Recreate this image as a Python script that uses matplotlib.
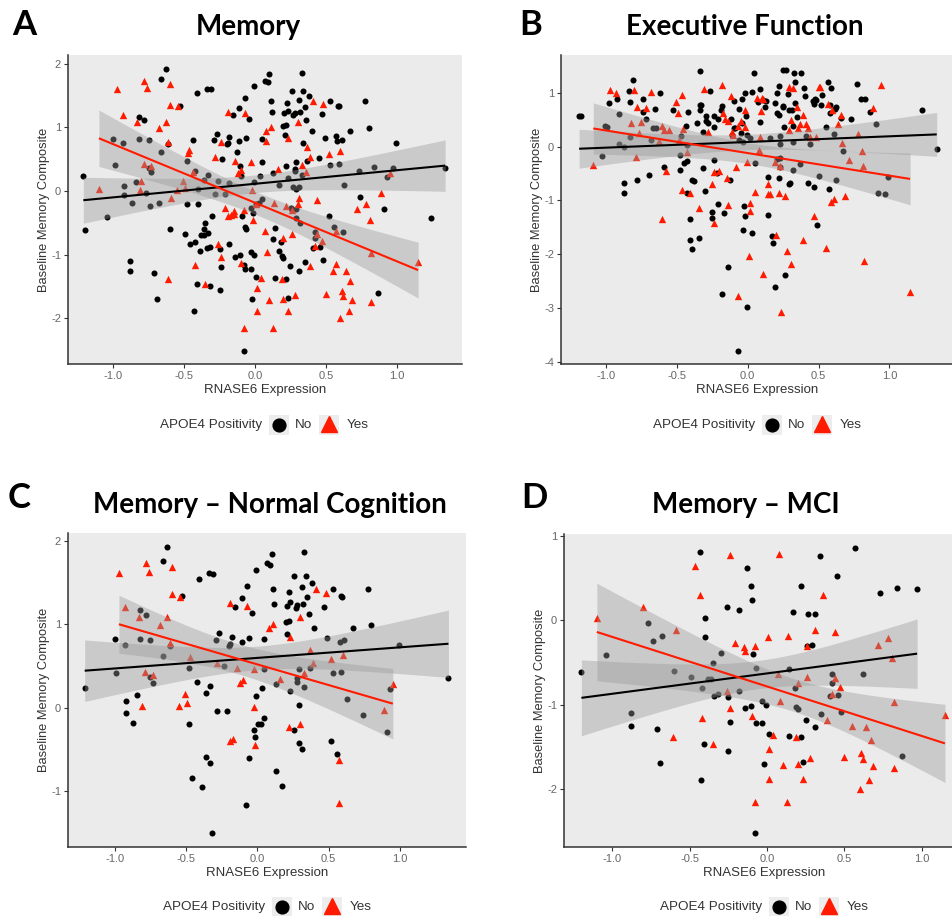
import numpy as np
import matplotlib
matplotlib.use('Agg')
import matplotlib.pyplot as plt
from matplotlib.lines import Line2D
from matplotlib.patches import Rectangle

plt.rcParams['font.family'] = ['Liberation Sans', 'DejaVu Sans']
plt.rcParams['axes.unicode_minus'] = False

# DATA (RNASE6 expression, baseline composite)
# Normal cognition, memory
C_no = [(-1.21, 0.23), (-1.00, 0.82), (-0.99, 0.41), (-0.93, 0.75), (-0.92, 0.08), (-0.92, -0.06),
        (-0.87, -0.18), (-0.84, 0.15), (-0.82, 1.17), (-0.82, 0.82), (-0.78, 1.11), (-0.75, 0.81),
        (-0.75, 0.37), (-0.73, 0.30), (-0.66, 1.76), (-0.63, 1.92), (-0.66, 0.62), (-0.61, 0.74),
        (-0.53, 1.34), (-0.48, 0.47), (-0.48, -0.20), (-0.455, -0.84), (-0.41, 1.54), (-0.42, 0.31),
        (-0.36, -0.59), (-0.36, 0.18), (-0.34, 1.61), (-0.31, 1.60), (-0.33, 0.26), (-0.39, -0.95),
        (-0.33, -0.66), (-0.32, -1.50), (-0.28, -0.04), (-0.27, 0.89), (-0.29, 0.81), (-0.235, 0.50),
        (-0.21, -0.04), (-0.20, 0.74), (-0.19, 0.76), (-0.18, 0.85), (-0.155, 1.20), (-0.11, 0.78),
        (-0.11, 1.31), (-0.07, 1.46), (-0.06, 0.83), (-0.04, 1.13), (-0.06, -0.60), (-0.08, -1.16),
        (-0.025, -0.27), (-0.015, -0.35), (-0.01, 0.14), (-0.01, 1.65), (0.005, -0.20), (0.025, -0.19),
        (0.05, -0.12), (0.035, 0.24), (0.05, 0.82), (0.05, 0.46), (0.07, 1.73), (0.09, 1.71),
        (0.10, 1.84), (0.11, 1.42), (0.12, 1.24), (0.13, 0.28), (0.13, -0.76), (0.17, -0.94),
        (0.21, 0.88), (0.20, 1.03), (0.22, 1.04), (0.205, 1.22), (0.225, 1.38), (0.23, 1.26),
        (0.23, 0.20), (0.255, -0.27), (0.26, 1.58), (0.27, 1.19), (0.28, 1.23), (0.28, 0.35),
        (0.28, 0.31), (0.29, 0.46), (0.29, 0.03), (0.29, -0.42), (0.31, 1.44), (0.315, -0.50),
        (0.32, 1.24), (0.33, 1.86), (0.33, 0.25), (0.34, 1.58), (0.35, 1.32), (0.36, 1.12),
        (0.37, 0.48), (0.38, 1.49), (0.40, 0.95), (0.47, 1.21), (0.49, 0.83), (0.52, -0.40),
        (0.53, 1.42), (0.53, 0.41), (0.56, -0.56), (0.58, 0.79), (0.585, 1.34), (0.595, 1.33),
        (0.59, 0.43), (0.61, 0.81), (0.63, 0.10), (0.67, 0.95), (0.74, -0.09), (0.775, 1.42),
        (0.80, 0.99), (0.91, -0.29), (0.93, 0.22), (0.995, 0.75), (1.34, 0.36)]
C_yes = [(-0.97, 1.61), (-0.93, 1.20), (-0.83, 1.08), (-0.81, 0.02), (-0.785, 0.43), (-0.78, 1.73),
         (-0.76, 1.62), (-0.73, 0.39), (-0.68, 0.99), (-0.63, 1.09), (-0.61, 0.77), (-0.60, 1.68),
         (-0.60, 1.36), (-0.54, 1.33), (-0.55, 0.02), (-0.51, 0.16), (-0.49, 0.05), (-0.47, 0.60),
         (-0.28, 0.53), (-0.19, 1.25), (-0.19, -0.40), (-0.17, -0.38), (-0.14, 0.48), (-0.12, 0.29),
         (-0.10, 0.33), (-0.07, 1.22), (-0.025, 0.46), (-0.02, 0.01), (-0.015, -0.45), (0.08, 0.95),
         (0.11, 1.00), (0.16, 0.34), (0.22, -0.23), (0.23, 0.84), (0.30, 1.08), (0.30, -0.20),
         (0.33, 0.41), (0.37, 0.69), (0.39, 0.53), (0.41, 1.42), (0.48, 1.37), (0.52, 0.58),
         (0.57, -0.63), (0.57, -1.14), (0.60, 0.63), (0.89, -0.03), (0.95, 0.28)]

# MCI, memory
D_no = [(-1.20, -0.61), (-1.04, -0.41), (-0.88, -1.10), (-0.88, -1.25), (-0.77, -0.03), (-0.74, -0.24),
        (-0.71, -1.29), (-0.69, -1.69), (-0.68, -0.19), (-0.60, -0.60), (-0.49, -0.67), (-0.435, 0.81),
        (-0.42, -0.80), (-0.43, -1.89), (-0.41, -1.46), (-0.40, 0.03), (-0.40, -0.20), (-0.38, -0.69),
        (-0.36, -0.69), (-0.35, -0.50), (-0.34, -0.90), (-0.32, -0.875), (-0.30, -0.39), (-0.26, 0.16),
        (-0.25, -0.91), (-0.25, -1.55), (-0.24, -1.20), (-0.18, 0.12), (-0.18, -0.84), (-0.14, -1.04),
        (-0.13, 0.62), (-0.105, 0.40), (-0.10, 0.24), (-0.105, -1.01), (-0.09, -0.40), (-0.07, -1.22),
        (-0.07, -0.56), (-0.075, -2.51), (-0.03, -0.96), (-0.03, -1.22), (-0.02, -1.70), (-0.01, -1.00),
        (0.01, -1.35), (0.14, -0.575), (0.14, -1.37), (0.17, 0.10), (0.18, -0.80), (0.19, -1.02),
        (0.20, -1.05), (0.22, 0.40), (0.22, -1.38), (0.23, -1.68), (0.25, -1.18), (0.26, -0.30),
        (0.265, 0.07), (0.29, -0.29), (0.31, 0.07), (0.31, -1.26), (0.34, 0.76), (0.35, -1.11),
        (0.42, -0.64), (0.42, -0.74), (0.41, -0.90), (0.45, 0.52), (0.46, -0.88), (0.48, -1.09),
        (0.57, 0.86), (0.62, -0.64), (0.73, 0.32), (0.84, 0.38), (0.87, -1.61), (0.97, 0.37)]
D_yes = [(-1.10, 0.03), (-0.80, 0.16), (-0.61, -1.38), (-0.59, -0.11), (-0.465, 0.64), (-0.435, 0.30),
         (-0.42, -1.16), (-0.35, -1.46), (-0.26, -0.84), (-0.24, 0.77), (-0.24, -1.04), (-0.21, -0.27),
         (-0.15, -0.32), (-0.145, -0.36), (-0.10, -1.13), (-0.08, -0.30), (-0.075, -2.15), (0.005, -0.20),
         (0.013, -1.52), (0.013, -1.88), (0.04, -1.36), (0.07, -0.63), (0.08, 0.78), (0.086, -0.96),
         (0.10, -1.71), (0.136, -0.18), (0.13, -2.15), (0.19, -1.38), (0.20, -1.70), (0.20, -0.74),
         (0.23, -1.88), (0.26, -0.30), (0.26, -0.67), (0.28, -1.63), (0.31, -0.11), (0.36, 0.30),
         (0.39, -1.18), (0.42, -0.87), (0.44, -0.14), (0.44, -0.68), (0.47, -0.79), (0.50, -1.62),
         (0.55, -1.25), (0.60, -1.99), (0.61, -1.57), (0.62, -1.645), (0.64, -1.26), (0.66, -1.89),
         (0.67, -1.42), (0.685, -1.72), (0.72, -0.29), (0.78, -0.21), (0.81, -0.45), (0.82, -0.97),
         (0.82, -1.75), (1.15, -1.12)]

# Whole sample, executive function
B_no = [(-1.19, 0.57), (-1.18, 0.57), (-1.03, -0.17), (-1.01, 0.38), (-0.99, 0.36), (-0.98, 0.80),
        (-0.92, 0.88), (-0.91, 0.60), (-0.91, 0.05), (-0.87, -0.01), (-0.87, -0.67), (-0.87, -0.86),
        (-0.835, 1.04), (-0.83, 0.83), (-0.81, 1.23), (-0.83, 0.17), (-0.78, -0.62), (-0.74, 0.89),
        (-0.74, 0.64), (-0.72, 0.52), (-0.70, -0.52), (-0.685, 0.12), (-0.655, 0.70), (-0.67, 0.35),
        (-0.645, 0.34), (-0.62, 0.99), (-0.59, -0.38), (-0.53, 0.67), (-0.48, -0.16), (-0.48, -0.43),
        (-0.47, 0.20), (-0.45, -0.31), (-0.435, 0.39), (-0.43, 0.03), (-0.43, -0.27), (-0.42, 0.65),
        (-0.43, -0.86), (-0.41, -1.35), (-0.405, -1.74), (-0.39, -0.62), (-0.38, -0.64), (-0.395, -1.91),
        (-0.36, 0.44), (-0.345, -1.70), (-0.34, 1.41), (-0.335, 0.78), (-0.33, 0.78), (-0.335, 0.68),
        (-0.315, -0.39), (-0.315, 0.27), (-0.295, 0.57), (-0.295, 0.48), (-0.28, 0.43), (-0.30, -0.82),
        (-0.265, 1.03), (-0.24, -0.25), (-0.24, 0.37), (-0.24, 0.57), (-0.25, -1.21), (-0.25, -1.32),
        (-0.22, -0.50), (-0.21, 0.52), (-0.21, -1.07), (-0.19, 0.68), (-0.18, 0.75), (-0.17, -1.24),
        (-0.18, -2.74), (-0.14, -2.23), (-0.125, -0.62), (-0.115, 0.51), (-0.11, 0.21), (-0.10, 0.85),
        (-0.10, 0.35), (-0.09, 0.34), (-0.07, -3.79), (-0.06, 0.12), (-0.06, 0.70), (-0.04, 0.89),
        (-0.05, 0.26), (-0.04, 0.43), (-0.035, 0.09), (-0.03, -1.55), (-0.025, -1.10), (-0.016, -1.30),
        (-0.016, 1.00), (-0.01, 0.57), (-0.007, -2.98), (-0.005, 0.21), (0.016, 0.15), (0.03, 1.02),
        (0.03, -1.60), (0.047, 1.37), (0.05, -0.31), (0.07, 0.82), (0.09, 1.06), (0.085, 0.45),
        (0.106, 0.86), (0.12, 0.74), (0.13, 0.84), (0.146, -0.57), (0.146, -1.27), (0.16, 0.16),
        (0.17, -1.66), (0.18, -1.79), (0.19, 0.80), (0.195, -2.61), (0.21, 0.99), (0.21, 0.63),
        (0.22, 0.58), (0.22, 1.12), (0.225, 0.19), (0.225, 0.04), (0.21, -0.23), (0.225, -0.22),
        (0.225, -0.38), (0.22, -0.59), (0.25, 1.43), (0.27, 1.43), (0.25, 0.76), (0.25, 0.73),
        (0.256, 0.37), (0.266, -2.39), (0.285, 0.97), (0.29, 0.68), (0.29, -0.70), (0.30, -0.67),
        (0.31, 0.68), (0.317, 0.38), (0.32, 0.09), (0.317, -0.44), (0.33, 1.37), (0.336, 1.19),
        (0.336, 0.80), (0.35, 0.54), (0.376, 1.37), (0.37, -0.33), (0.40, 1.08), (0.405, 0.93),
        (0.41, 0.20), (0.426, -0.67), (0.438, 0.05), (0.46, 0.85), (0.466, 0.79), (0.475, 0.88),
        (0.48, 0.86), (0.466, -0.75), (0.487, -1.46), (0.50, -0.55), (0.52, 0.78), (0.527, 0.96),
        (0.55, 0.37), (0.567, 1.20), (0.576, -0.78), (0.58, 0.62), (0.584, 0.77), (0.59, 1.08),
        (0.61, 0.24), (0.614, 0.69), (0.626, 0.73), (0.624, -0.62), (0.67, -0.08), (0.66, 0.53),
        (0.73, 0.52), (0.77, 1.16), (0.80, 0.89), (0.83, 0.88), (0.866, 0.64), (0.906, 0.42),
        (0.92, -0.87), (0.97, -0.88), (0.99, -0.57), (1.23, 0.68), (1.334, -0.05)]
B_yes = [(-1.09, -0.34), (-0.97, 1.05), (-0.93, 1.00), (-0.80, 1.05), (-0.826, 0.44), (-0.79, -0.19),
         (-0.78, 0.74), (-0.767, 0.26), (-0.75, 0.45), (-0.72, 0.71), (-0.68, 1.02), (-0.625, 0.10),
         (-0.605, 0.38), (-0.607, -1.34), (-0.59, 0.31), (-0.58, -0.46), (-0.553, 0.31), (-0.506, 0.83),
         (-0.494, 0.63), (-0.487, 0.13), (-0.466, 0.96), (-0.466, -0.80), (-0.46, 0.32), (-0.41, -0.86),
         (-0.426, -0.11), (-0.346, -1.15), (-0.306, 1.06), (-0.278, 0.27), (-0.25, -0.69), (-0.24, -0.48),
         (-0.235, -1.42), (-0.205, -0.45), (-0.18, 1.15), (-0.176, 0.63), (-0.16, 0.51), (-0.14, 0.47),
         (-0.146, -0.59), (-0.14, -1.08), (-0.118, 0.94), (-0.11, 0.27), (-0.105, 0.21), (-0.08, -0.38),
         (-0.07, 0.39), (-0.07, -2.77), (-0.045, 0.48), (-0.016, 0.37), (-0.02, 0.68), (-0.007, -0.28),
         (0.012, -2.04), (0.016, -1.04), (0.016, -1.19), (0.05, -0.85), (0.066, 0.91), (0.08, -0.07),
         (0.094, 0.66), (0.10, 0.90), (0.106, -2.36), (0.11, 0.89), (0.14, -0.89), (0.143, -0.70),
         (0.158, -0.89), (0.087, 0.18), (0.19, -0.28), (0.197, -1.65), (0.22, -0.87), (0.228, -0.36),
         (0.233, -3.07), (0.26, -0.92), (0.28, -1.94), (0.29, 1.10), (0.306, -2.19), (0.317, 1.08),
         (0.29, 0.31), (0.306, 0.49), (0.35, 0.74), (0.357, 0.34), (0.37, 0.42), (0.393, 0.58),
         (0.388, -1.73), (0.41, 0.42), (0.426, 0.34), (0.44, 0.18), (0.466, -1.29), (0.48, 0.18),
         (0.50, 1.10), (0.51, 1.10), (0.55, -1.88), (0.57, 0.79), (0.595, 0.67), (0.59, -1.03),
         (0.61, -0.98), (0.64, 0.42), (0.66, 0.58), (0.666, 0.07), (0.687, -0.91), (0.718, -0.25),
         (0.776, 0.24), (0.807, -0.08), (0.816, -0.36), (0.82, -2.13), (0.887, 0.71), (0.94, 1.14),
         (1.146, -2.71)]

# Panel A is the whole sample: normal cognition + MCI (+ one point seen only in A)
A_extra_no = [(1.24, -0.43)]
A_no = C_no + D_no + A_extra_no
A_yes = C_yes + D_yes

x_ticks = [-1.0, -0.5, 0.0, 0.5, 1.0]
x_tick_labels = ['-1.0', '-0.5', '0.0', '0.5', '1.0']

# SETTINGS
W, H = 952, 916
RED = '#FF1A00'
T_CRIT = 1.98  # 95% t quantile, large df


def px_box(left, top, right, bottom):
    return [left / W, 1 - bottom / H, (right - left) / W, (bottom - top) / H]


def fit_band(points, n_grid=80):
    x = np.array([p[0] for p in points])
    y = np.array([p[1] for p in points])
    n = len(x)
    slope, icpt = np.polyfit(x, y, 1)
    grid = np.linspace(x.min(), x.max(), n_grid)
    fit = icpt + slope * grid
    resid = y - (icpt + slope * x)
    s = np.sqrt(np.sum(resid ** 2) / (n - 2))
    sxx = np.sum((x - x.mean()) ** 2)
    se = s * np.sqrt(1 / n + (grid - x.mean()) ** 2 / sxx)
    return grid, fit, T_CRIT * se


def draw_panel(fig, box, no_pts, yes_pts, xlim, ylim, yticks):
    ax = fig.add_axes(px_box(*box))
    ax.set_facecolor('#EBEBEB')
    ax.scatter([p[0] for p in no_pts], [p[1] for p in no_pts], s=19, marker='o',
               color='black', linewidths=0, zorder=2)
    ax.scatter([p[0] for p in yes_pts], [p[1] for p in yes_pts], s=28, marker='^',
               color=RED, linewidths=0, zorder=2)
    for pts, col in [(no_pts, 'black'), (yes_pts, RED)]:
        grid, fit, ci = fit_band(pts)
        ax.fill_between(grid, fit - ci, fit + ci, color='#999999', alpha=0.4, lw=0, zorder=3)
        ax.plot(grid, fit, color=col, lw=1.5, zorder=4, solid_capstyle='butt')
    ax.set_xlim(*xlim)
    ax.set_ylim(*ylim)
    ax.set_xticks(x_ticks)
    ax.set_xticklabels(x_tick_labels)
    ax.set_yticks(yticks)
    ax.set_yticklabels([str(t) for t in yticks])
    for side in ['top', 'right']:
        ax.spines[side].set_visible(False)
    for side in ['left', 'bottom']:
        ax.spines[side].set_color('#333333')
        ax.spines[side].set_linewidth(1.1)
    ax.tick_params(colors='#333333', length=3, width=0.8, labelsize=8, labelcolor='#666666', pad=2)
    ax.set_xlabel('RNASE6 Expression', fontsize=9.5, color='#333333', labelpad=2)
    ax.set_ylabel('Baseline Memory Composite', fontsize=9.3, color='#333333', labelpad=1)
    return ax


def draw_legend(fig, cx, cy):
    # cx: centre of the "No" key, in pixels
    fx = lambda v: v / W
    fy = lambda v: 1 - v / H
    fig.text(fx(cx - 17), fy(cy), 'APOE4 Positivity', ha='right', va='center', fontsize=9.7, color='#333333')
    for kx in [cx, cx + 50]:
        fig.add_artist(Rectangle((fx(kx - 10), fy(cy + 10)), 20 / W, 20 / H,
                                 transform=fig.transFigure, color='#EDEDED', lw=0))
    fig.add_artist(Line2D([fx(cx)], [fy(cy)], marker='o', markersize=9.2, color='black',
                          transform=fig.transFigure, lw=0))
    fig.add_artist(Line2D([fx(cx + 50)], [fy(cy - 1)], marker='^', markersize=11.5, color=RED,
                          transform=fig.transFigure, lw=0))
    fig.text(fx(cx + 16), fy(cy), 'No', ha='left', va='center', fontsize=9.7, color='#333333')
    fig.text(fx(cx + 68), fy(cy), 'Yes', ha='left', va='center', fontsize=9.7, color='#333333')


fig = plt.figure(figsize=(W / 100, H / 100), dpi=100)

draw_panel(fig, (68, 55, 462, 364), A_no, A_yes, (-1.318, 1.459), (-2.72, 2.14), [-2, -1, 0, 1, 2])
draw_panel(fig, (561, 55, 954, 364), B_no, B_yes, (-1.318, 1.456), (-4.04, 1.70), [-4, -3, -2, -1, 0, 1])
draw_panel(fig, (68, 533, 466, 847), C_no, C_yes, (-1.327, 1.463), (-1.668, 2.09), [-1, 0, 1, 2])
draw_panel(fig, (564, 534, 964, 847), D_no, D_yes, (-1.3125, 1.273), (-2.68, 1.02), [-2, -1, 0, 1])

title_font = dict(family=['Lato', 'DejaVu Sans'], weight='bold', color='black')
for txt, x, y in [('Memory', 248, 27), ('Executive Function', 745, 27),
                  ('Memory – Normal Cognition', 270, 505), ('Memory – MCI', 746, 505)]:
    fig.text(x / W, 1 - y / H, txt, ha='center', va='center', fontsize=20, **title_font)
for txt, x, y in [('A', 12, 25), ('B', 519, 25), ('C', 8, 498), ('D', 521, 498)]:
    fig.text(x / W, 1 - y / H, txt, ha='left', va='center', fontsize=25, **title_font)

draw_legend(fig, 279, 425)
draw_legend(fig, 772, 425)
draw_legend(fig, 282, 907)
draw_legend(fig, 779, 907)

fig.savefig('out.png', dpi=100, facecolor='white')
